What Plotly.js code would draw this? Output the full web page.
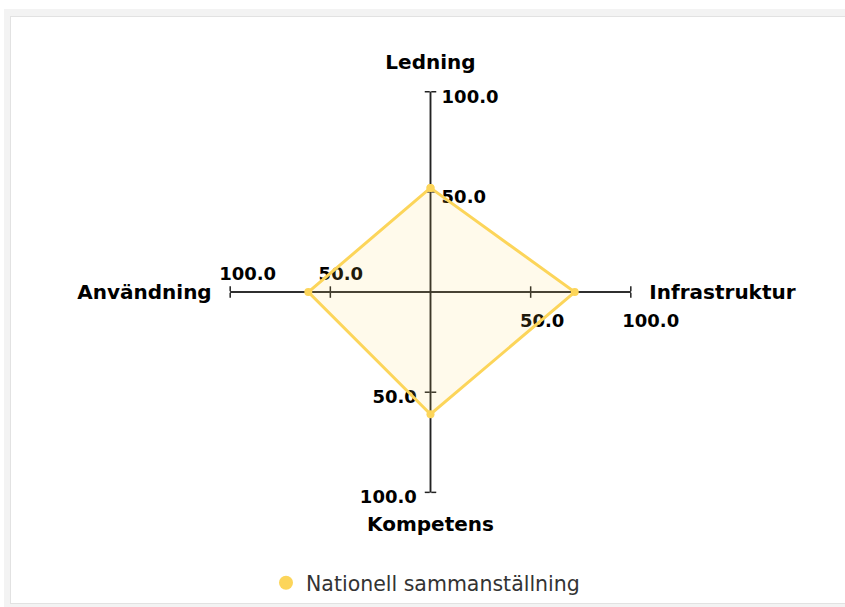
<!DOCTYPE html>
<html>
<head>
<meta charset="utf-8">
<script src="https://cdn.plot.ly/plotly-3.0.1.min.js"></script>
<style>
  html, body { margin:0; padding:0; background:#ffffff; width:845px; height:607px; overflow:hidden; }
  #band { position:absolute; left:4px; top:9px; width:841px; height:598px; background:#f3f3f3; }
  #frame { position:absolute; left:10px; top:16px; width:836px; height:588px; box-sizing:border-box;
           border:1px solid #e2e2e2; border-right:none; background:#ffffff; }
  #chart { width:834px; height:586px; }
</style>
</head>
<body>
<div id="band"></div>
<div id="frame"><div id="chart"></div></div>
<script>
// ---- data ----
const categories = ["Ledning", "Infrastruktur", "Kompetens", "Användning"];
const values = [52, 72, 61, 61];
const seriesName = "Nationell sammanställning";
const tickValues = [50, 100];
const tickLabels = ["50.0", "100.0"];
const axisAngles = [90, 0, 270, 180]; // Ledning, Infrastruktur, Kompetens, Användning

// ---- styling ----
const W = 834, H = 586;
const cx = 419.5, cy = 310, R = 201;          // polar centre (from bottom-left) and radius, px
const rMax = 100, labelRMax = 115;            // label subplots use a larger range, same px scale
const pxPerUnit = R / rMax;
function dom(rad) {
  return {x: [(cx - rad) / W, (cx + rad) / W], y: [(cy - rad) / H, (cy + rad) / H]};
}
const axisColor = "#222222";
const yellow = "#fcd55a";
// label placement tweaks in px: along the axis (outward +) per tick, and distance from axis
const labelAlong = {90: [-5, -5], 0: [11.5, 20], 270: [5, 5], 180: [-10.5, -17.5]};
const labelAway = {90: 7, 0: 13, 270: 6, 180: 8};

const traces = [];
const layout = {
  width: W, height: H,
  margin: {l:0, r:0, t:0, b:0},
  paper_bgcolor: "#ffffff",
  showlegend: true,
  legend: {
    orientation: "h", x: 0.497, xanchor: "center", y: 0.031, yanchor: "middle",
    font: {family: "DejaVu Sans", size: 20.5, color: "#333333"},
    bgcolor: "rgba(0,0,0,0)"
  }
};

let idx = 1;
function addPolar(cfg) {
  const id = idx === 1 ? "polar" : "polar" + idx;
  idx++;
  layout[id] = cfg;
  traces.push({type: "scatterpolar", subplot: id, r: [null], theta: [null],
               mode: "markers", showlegend: false, hoverinfo: "skip"});
}

axisAngles.forEach(function(a) {
  // axis line + ticks on both sides
  ["clockwise", "counterclockwise"].forEach(function(side) {
    addPolar({
      domain: dom(R), bgcolor: "rgba(0,0,0,0)",
      angularaxis: {visible: false},
      radialaxis: {
        range: [0, rMax], angle: a, side: side,
        showline: true, linecolor: axisColor, linewidth: 1.5, showgrid: false,
        ticks: "outside", ticklen: 5, tickwidth: 1.5, tickcolor: axisColor,
        tickvals: tickValues, showticklabels: false
      }
    });
  });
  // tick labels
  addPolar({
    domain: dom(labelRMax * pxPerUnit), bgcolor: "rgba(0,0,0,0)",
    angularaxis: {visible: false},
    radialaxis: {
      range: [0, labelRMax], angle: a, side: "clockwise",
      showline: false, showgrid: false,
      ticks: "outside", ticklen: labelAway[a], tickcolor: "rgba(0,0,0,0)",
      tickvals: tickValues.map(function(v, i) { return v + labelAlong[a][i] / pxPerUnit; }),
      ticktext: tickLabels,
      tickangle: a > 180 ? a - 360 : a,
      tickfont: {family: "DejaVu Sans", size: 18, color: "#000000", weight: 700}
    }
  });
});

// data polar (on top)
const dataId = "polar" + idx;
layout[dataId] = {
  domain: dom(R), bgcolor: "rgba(0,0,0,0)",
  radialaxis: {range: [0, rMax], visible: false},
  angularaxis: {
    type: "category", categoryarray: categories, categoryorder: "array",
    rotation: 90, direction: "clockwise",
    showline: false, showgrid: false,
    ticks: "outside", ticklen: 14, tickcolor: "rgba(0,0,0,0)",
    tickfont: {family: "DejaVu Sans", size: 20, color: "#000000", weight: 700}
  }
};

traces.push({
  type: "scatterpolar", subplot: dataId,
  r: values.concat([values[0]]),
  theta: categories.concat([categories[0]]),
  mode: "lines+markers", fill: "toself",
  fillcolor: "rgba(252,213,90,0.12)",
  line: {color: yellow, width: 3},
  marker: {color: yellow, size: 8},
  name: seriesName, showlegend: false, hoverinfo: "r+theta"
});
traces.push({
  type: "scatterpolar", subplot: dataId,
  r: [null], theta: [null], mode: "markers",
  marker: {color: yellow, size: 14},
  name: seriesName, showlegend: true
});

Plotly.newPlot("chart", traces, layout, {displayModeBar: false, staticPlot: true});
</script>
</body>
</html>
